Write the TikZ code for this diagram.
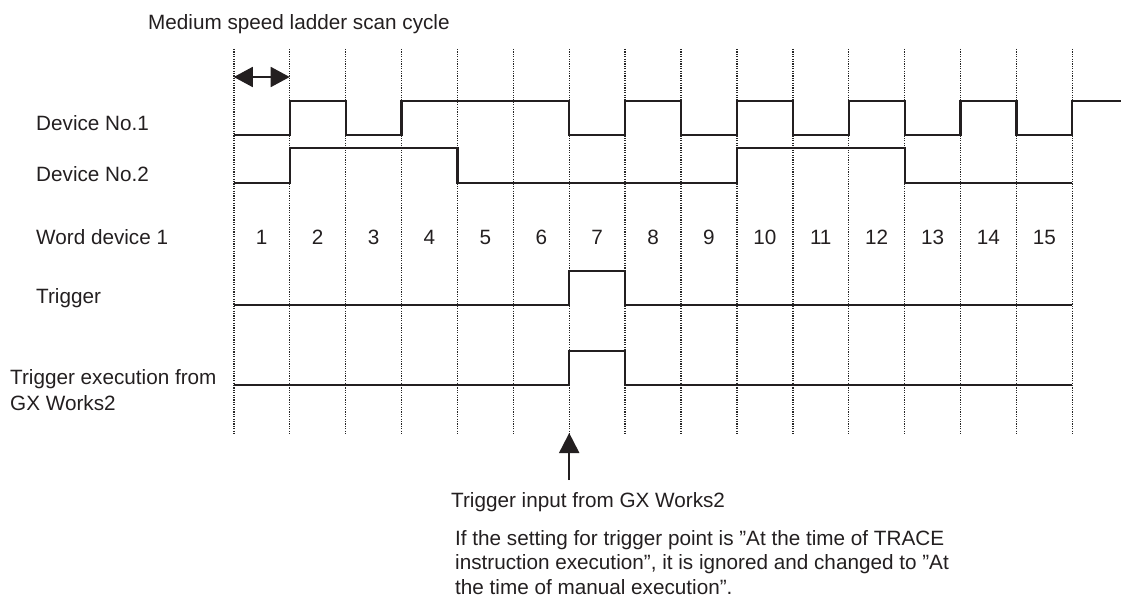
\documentclass[tikz,border=0pt]{standalone}
\usepackage{fontspec}
\setmainfont{Liberation Sans}
\usetikzlibrary{positioning, arrows.meta}
\definecolor{inkBlack}{HTML}{231F20}
\definecolor{gridGrey}{HTML}{262626}

\begin{document}
\begin{tikzpicture}[x=1pt, y=-1pt, font=\fontsize{20.7}{25}\selectfont, text=inkBlack,
    lbl/.style={anchor=base west, inner sep=0pt},
    sig/.style={draw=inkBlack, line width=2.2pt, line join=miter},
    gridline/.style={draw=gridGrey, line width=1.4pt, dash pattern=on 1.2pt off 1.2pt}]
  \useasboundingbox (0,0) rectangle (1121,599);

  % row labels
  \node[lbl] (title) at (148,30) {Medium speed ladder scan cycle};
  \node[lbl] (devA) at (36,131) {Device No.1};
  \node[lbl] (devB) at (36,181) {Device No.2};
  \node[lbl] (word) at (36,244) {Word device 1};
  \node[lbl] (trig) at (36,303) {Trigger};
  \node[anchor=north west, inner sep=0pt, align=left, font=\fontsize{20.7}{26}\selectfont]
    (trigExec) at (10,369) {Trigger execution from\\GX Works2};

  \begin{scope}[xshift=233.8pt, x=55.9pt]
    \foreach \k in {0,...,15}
      \draw[gridline] (\k,49) -- (\k,435);
    \foreach \k in {1,...,15}
      \node[anchor=base, inner sep=0pt] (w\k) at (\k-0.5,244) {\k};

    % scan cycle width
    \coordinate (cycL) at (0,77);
    \coordinate (cycR) at (1,77);
    \draw[{Triangle[length=19pt,width=20pt]}-{Triangle[length=19pt,width=20pt]}, line width=1.8pt, draw=inkBlack, fill=inkBlack] (cycL) -- (cycR);

    % signals
    \draw[sig] (0,135) -- (1,135) -- (1,101) -- (2,101) -- (2,135) -- (3,135) -- (3,101)
      -- (6,101) -- (6,135) -- (7,135) -- (7,101) -- (8,101) -- (8,135) -- (9,135) -- (9,101)
      -- (10,101) -- (10,135) -- (11,135) -- (11,101) -- (12,101) -- (12,135) -- (13,135)
      -- (13,101) -- (14,101) -- (14,135) -- (15,135) -- (15,101) -- (15.87,101);
    \draw[sig] (0,183) -- (1,183) -- (1,148) -- (4,148) -- (4,183) -- (9,183) -- (9,148)
      -- (12,148) -- (12,183) -- (15,183);
    \draw[sig] (0,305) -- (6,305) -- (6,271) -- (7,271) -- (7,305) -- (15,305);
    \draw[sig] (0,385) -- (6,385) -- (6,351) -- (7,351) -- (7,385) -- (15,385);

    % manual trigger
    \coordinate (trigTip) at (6,433);
    \coordinate (trigTail) at (6,480);
    \draw[-{Triangle[length=20pt,width=20pt]}, line width=2pt, draw=inkBlack, fill=inkBlack] (trigTail) -- (trigTip);
  \end{scope}

  \node[lbl] (trigIn) at (451,507) {Trigger input from GX Works2};
  \node[anchor=north west, inner sep=0pt, align=left, font=\fontsize{20.7}{24.5}\selectfont]
    (note) at (455,530) {If the setting for trigger point is ”At the time of TRACE\\
      instruction execution”, it is ignored and changed to ”At\\
      the time of manual execution”.};
\end{tikzpicture}
\end{document}
